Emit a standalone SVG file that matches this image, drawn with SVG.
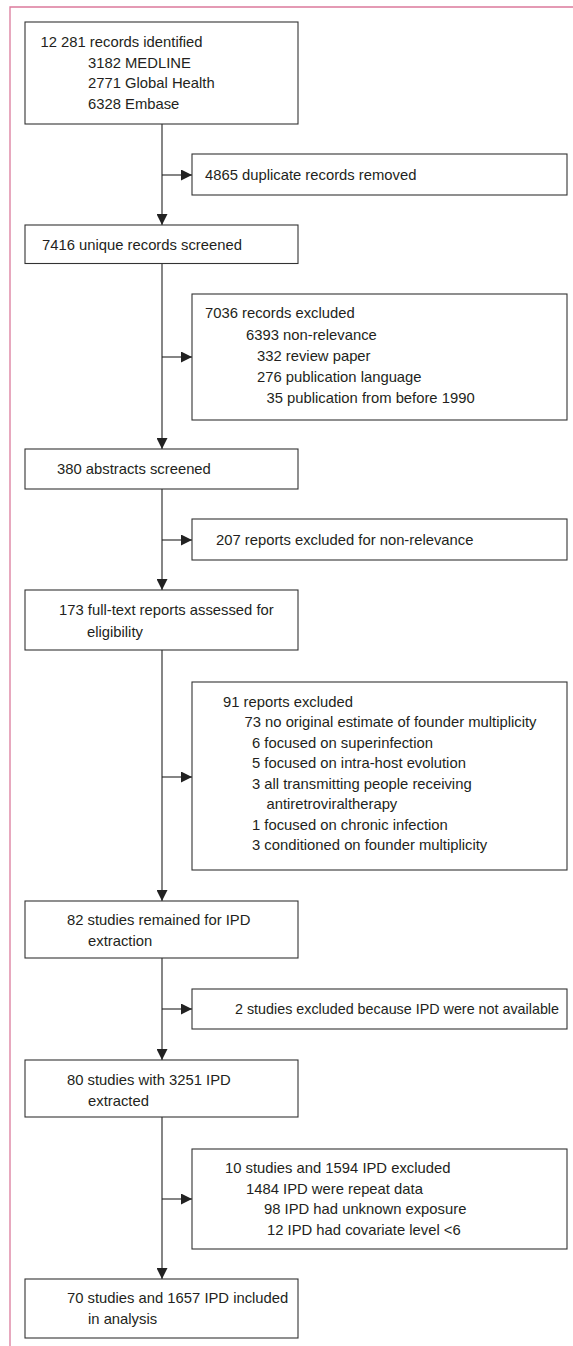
<svg xmlns="http://www.w3.org/2000/svg" width="573" height="1346" viewBox="0 0 573 1346">
<style>
.bx{fill:#fff;stroke:#333;stroke-width:1.1}
.t{font-family:"Liberation Sans",Arial,sans-serif;font-size:14.8px;fill:#231f20}
.c{stroke:#222;stroke-width:1.1;fill:none}
.pk{stroke:#db7a9c;stroke-width:1.3;fill:none}
</style>
<defs>
<marker id="ah" markerUnits="userSpaceOnUse" markerWidth="11" markerHeight="11" refX="10" refY="5" orient="auto" viewBox="0 0 10 10">
<path d="M0,0 L10,5 L0,10 z" fill="#222"/>
</marker>
</defs>
<rect width="573" height="1346" fill="#fff"/>
<path class="pk" d="M573,7 H10 V1346"/>
<g id="connectors">
<line class="c" x1="162" y1="124" x2="162" y2="225" marker-end="url(#ah)"/>
<line class="c" x1="162" y1="175" x2="192" y2="175" marker-end="url(#ah)"/>
<line class="c" x1="162" y1="263.5" x2="162" y2="449" marker-end="url(#ah)"/>
<line class="c" x1="162" y1="357" x2="192" y2="357" marker-end="url(#ah)"/>
<line class="c" x1="162" y1="489" x2="162" y2="590" marker-end="url(#ah)"/>
<line class="c" x1="162" y1="540" x2="192" y2="540" marker-end="url(#ah)"/>
<line class="c" x1="162" y1="650" x2="162" y2="901" marker-end="url(#ah)"/>
<line class="c" x1="162" y1="777" x2="192" y2="777" marker-end="url(#ah)"/>
<line class="c" x1="162" y1="958" x2="162" y2="1060" marker-end="url(#ah)"/>
<line class="c" x1="162" y1="1009" x2="192" y2="1009" marker-end="url(#ah)"/>
<line class="c" x1="162" y1="1117" x2="162" y2="1279" marker-end="url(#ah)"/>
<line class="c" x1="162" y1="1199" x2="192" y2="1199" marker-end="url(#ah)"/>
</g>
<g id="n1">
<rect class="bx" x="25" y="22" width="273" height="102"/>
<text class="t" x="40.5" y="47">12 281 records identified</text>
<text class="t" x="88" y="67.5">3182 MEDLINE</text>
<text class="t" x="88" y="88">2771 Global Health</text>
<text class="t" x="88" y="108.5">6328 Embase</text>
</g>
<g id="n2">
<rect class="bx" x="192" y="154" width="375" height="41"/>
<text class="t" x="205" y="180">4865 duplicate records removed</text>
</g>
<g id="n3">
<rect class="bx" x="25" y="225" width="273" height="38.5"/>
<text class="t" x="42" y="249.5">7416 unique records screened</text>
</g>
<g id="n4">
<rect class="bx" x="192" y="294" width="375" height="126"/>
<text class="t" x="205" y="318">7036 records excluded</text>
<text class="t" x="246" y="339.5">6393 non-relevance</text>
<text class="t" x="257" y="360.5">332 review paper</text>
<text class="t" x="257" y="381.5">276 publication language</text>
<text class="t" x="266.5" y="403">35 publication from before 1990</text>
</g>
<g id="n5">
<rect class="bx" x="25" y="449" width="273" height="40"/>
<text class="t" x="57" y="474">380 abstracts screened</text>
</g>
<g id="n6">
<rect class="bx" x="192" y="519" width="375" height="41"/>
<text class="t" x="216" y="545">207 reports excluded for non-relevance</text>
</g>
<g id="n7">
<rect class="bx" x="25" y="590" width="273" height="60"/>
<text class="t" x="59" y="615">173 full-text reports assessed for</text>
<text class="t" x="87" y="636.5">eligibility</text>
</g>
<g id="n8">
<rect class="bx" x="192" y="682" width="375" height="188"/>
<text class="t" x="223" y="706.5">91 reports excluded</text>
<text class="t" x="244.5" y="727">73 no original estimate of founder multiplicity</text>
<text class="t" x="252" y="747.5">6 focused on superinfection</text>
<text class="t" x="252" y="768">5 focused on intra-host evolution</text>
<text class="t" x="252" y="788.5">3 all transmitting people receiving</text>
<text class="t" x="266.5" y="809">antiretroviraltherapy</text>
<text class="t" x="252" y="829.5">1 focused on chronic infection</text>
<text class="t" x="252" y="850">3 conditioned on founder multiplicity</text>
</g>
<g id="n9">
<rect class="bx" x="25" y="901" width="273" height="57"/>
<text class="t" x="67" y="925">82 studies remained for IPD</text>
<text class="t" x="88" y="945.5">extraction</text>
</g>
<g id="n10">
<rect class="bx" x="192" y="989" width="375" height="40"/>
<text class="t" x="235" y="1013.5" textLength="324" lengthAdjust="spacingAndGlyphs">2 studies excluded because IPD were not available</text>
</g>
<g id="n11">
<rect class="bx" x="25" y="1060" width="273" height="57"/>
<text class="t" x="67" y="1085">80 studies with 3251 IPD</text>
<text class="t" x="88" y="1105.5">extracted</text>
</g>
<g id="n12">
<rect class="bx" x="192" y="1149" width="375" height="100"/>
<text class="t" x="225" y="1173">10 studies and 1594 IPD excluded</text>
<text class="t" x="246" y="1193.5">1484 IPD were repeat data</text>
<text class="t" x="264" y="1214">98 IPD had unknown exposure</text>
<text class="t" x="267" y="1234.5">12 IPD had covariate level &lt;6</text>
</g>
<g id="n13">
<rect class="bx" x="25" y="1279" width="273" height="59"/>
<text class="t" x="67" y="1303">70 studies and 1657 IPD included</text>
<text class="t" x="88" y="1323.5">in analysis</text>
</g>
</svg>
